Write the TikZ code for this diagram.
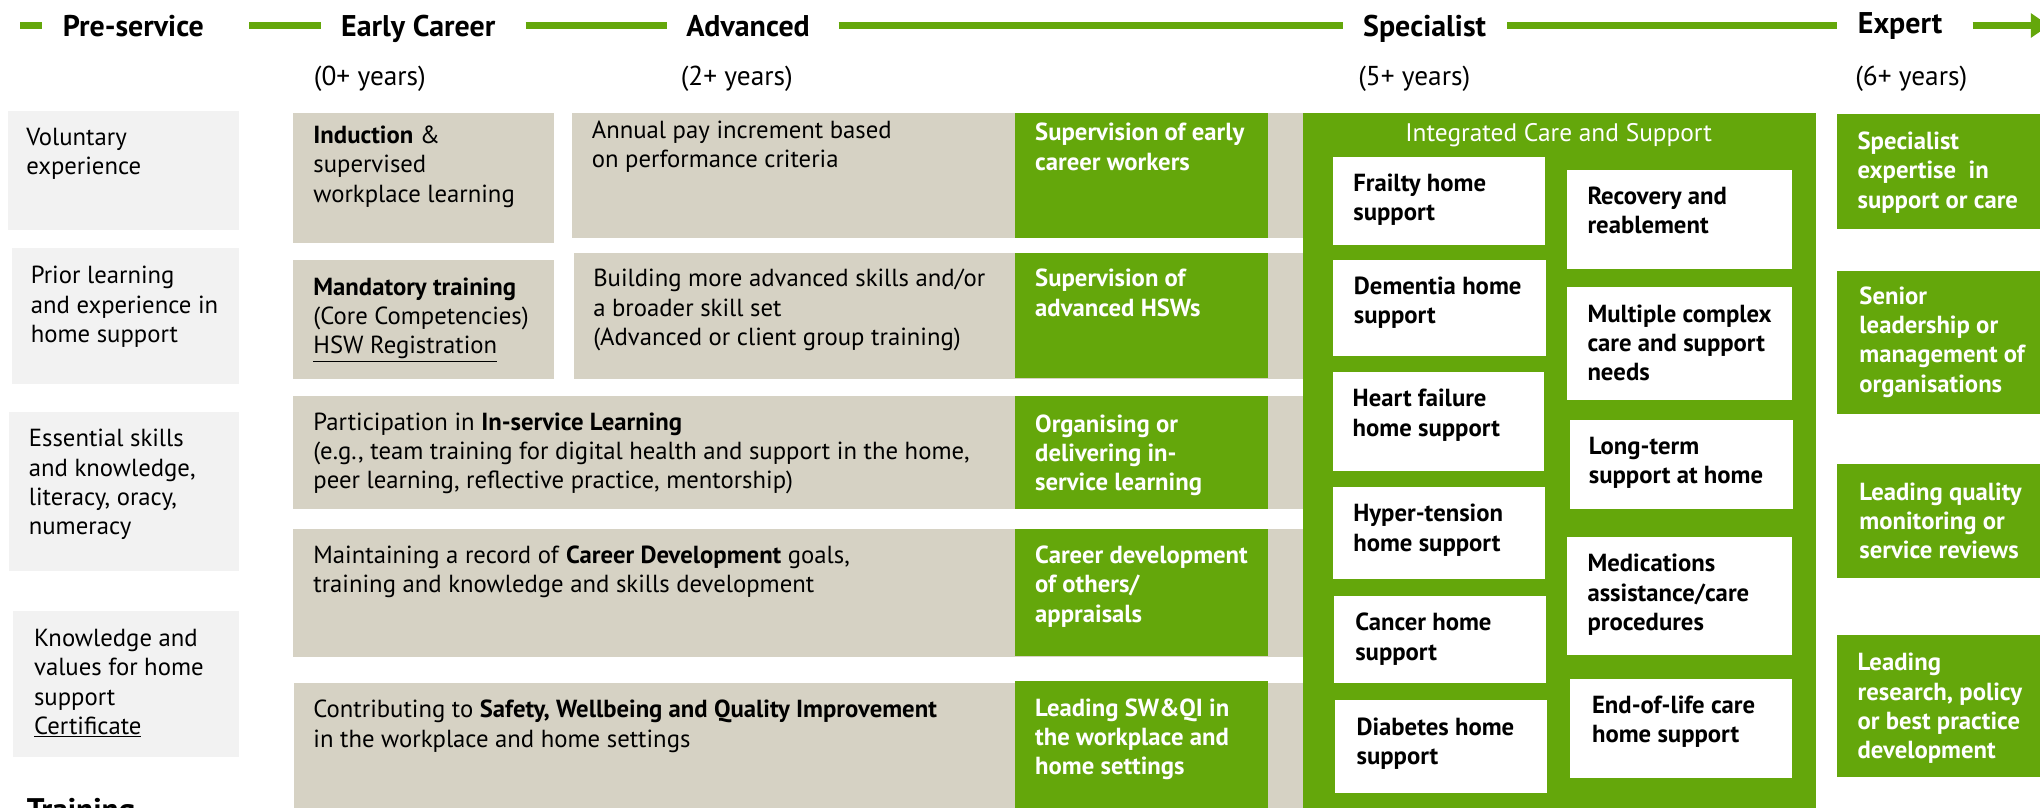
\documentclass[tikz,border=0pt]{standalone}
\usepackage{fontspec}
\setmainfont{PT Sans}
\usetikzlibrary{calc,arrows.meta}
\definecolor{hsgreen}{RGB}{100,167,11}
\definecolor{hsbeige}{RGB}{214,210,196}
\definecolor{hsgrey}{RGB}{242,242,242}

\tikzset{
	txt/.style={anchor=north west, inner sep=0pt, align=left, yshift=13.5pt,
		font=\fontsize{19}{22.5}\selectfont, execute at begin node=\strut},
	gtxt/.style={txt, text=white, font=\bfseries\fontsize{19}{22.5}\selectfont},
	wtxt/.style={txt, font=\bfseries\fontsize{19}{22.5}\selectfont},
	head/.style={anchor=base, inner sep=0pt, font=\bfseries\fontsize{23}{26}\selectfont},
	years/.style={anchor=base, inner sep=0pt, font=\fontsize{21}{24}\selectfont},
	timeline/.style={hsgreen, line width=6pt},
}

\begin{document}
\begin{tikzpicture}[x=1pt, y=-1pt]
		%%%%% FRAME %%%%%
		\useasboundingbox (0, 0) rectangle (1568, 621);
		\coordinate (tl) at (0, 19.6);
		\coordinate (tlend) at (1575, 19.6);
		
		%%%%% TIMELINE %%%%%
		\node[head] (pre) at (102.5, 27.8) {Pre-service};
		\node[head] (early) at (321.5, 27.8) {Early Career};
		\node[head] (adv) at (575, 27.8) {Advanced};
		\node[head] (spec) at (1095, 27.8) {Specialist};
		\node[head] (expert) at (1460.5, 26) {Expert};
		
		\draw[timeline] ($(pre.west |- tl)+(-32.5, 0)$) -- ($(pre.west |- tl)+(-16, 0)$);
		\draw[timeline] ($(pre.east |- tl)+(34.5, 0)$) -- ($(early.west |- tl)+(-15, 0)$);
		\draw[timeline] ($(early.east |- tl)+(23, 0)$) -- ($(adv.west |- tl)+(-15, 0)$);
		\draw[timeline] ($(adv.east |- tl)+(22, 0)$) -- ($(spec.west |- tl)+(-15.5, 0)$);
		\draw[timeline] ($(spec.east |- tl)+(16, 0)$) -- ($(expert.west |- tl)+(-16, 0)$);
		\draw[timeline, -{Triangle[length=14pt 0, width=18pt 0]}] ($(expert.east |- tl)+(23, 0)$) -- (tlend);
		
		\node[years] (y0) at (284.3, 66) {(0+ years)};
		\node[years] (y2) at (566.3, 66) {(2+ years)};
		\node[years] (y5) at (1087, 66) {(5+ years)};
		\node[years] (y6) at (1469, 66) {(6+ years)};
		
		%%%%% PRE-SERVICE %%%%%
		\fill[hsgrey] (6, 85) rectangle (184, 176.5);
		\fill[hsgrey] (9, 191) rectangle (184, 295);
		\fill[hsgrey] (7, 317) rectangle (184, 439);
		\fill[hsgrey] (10, 469.5) rectangle (184, 582);
		
		\node[txt] (volunt) at (20, 112) {Voluntary\\experience};
		\node[txt] (prior) at (23.5, 218) {Prior learning\\and experience in\\home support};
		\node[txt] (essent) at (22, 343.3) {Essential skills\\and knowledge,\\literacy, oracy,\\numeracy};
		\node[txt] (knowl) at (26, 497) {Knowledge and\\values for home\\support\\\underline{Certificate}};
		\node[anchor=base west, inner sep=0pt, font=\bfseries\fontsize{24}{28}\selectfont] (train) at (20.5, 631) {Training};
		
		%%%%% EARLY CAREER AND ADVANCED %%%%%
		\fill[hsbeige] (225.5, 87) rectangle (425.5, 186.5);
		\fill[hsbeige] (225.5, 200) rectangle (425.5, 291.5);
		\fill[hsbeige] (440, 87) rectangle (1001.5, 183.2);
		\fill[hsbeige] (441.3, 194.7) rectangle (1001.5, 291.5);
		\fill[hsbeige] (225.5, 304.4) rectangle (1001.5, 391.3);
		\fill[hsbeige] (225.5, 406.6) rectangle (1001.5, 504.8);
		\fill[hsbeige] (226, 524.7) rectangle (1001.5, 621);
		
		\node[txt] (induct) at (240.7, 110.2) {\textbf{Induction} \&\\supervised\\workplace learning};
		\node[txt] (mandat) at (240.7, 226.8) {\textbf{Mandatory training}\\(Core Competencies)\\\underline{HSW Registration}};
		\node[txt] (annual) at (454.7, 106.3) {Annual pay increment based\\on performance criteria};
		\node[txt] (build) at (455.8, 220.3) {Building more advanced skills and/or\\a broader skill set\\(Advanced or client group training)};
		\node[txt] (insvc) at (240.7, 330.5) {Participation in \textbf{In-service Learning}\\(e.g., team training for digital health and support in the home,\\peer learning, reflective practice, mentorship)};
		\node[txt] (career) at (240.7, 433) {Maintaining a record of \textbf{Career Development} goals,\\training and knowledge and skills development};
		\node[txt] (safety) at (240.7, 551.4) {Contributing to \textbf{Safety, Wellbeing and Quality Improvement}\\in the workplace and home settings};
		
		\fill[hsgreen] (780.4, 87) rectangle (974.8, 183.2);
		\fill[hsgreen] (780.4, 194.7) rectangle (974.8, 290.4);
		\fill[hsgreen] (780.4, 304.4) rectangle (974.8, 391.3);
		\fill[hsgreen] (780.4, 406.6) rectangle (974.8, 504);
		\fill[hsgreen] (780.4, 523.5) rectangle (974.8, 621);
		
		\node[gtxt] (supearly) at (795.5, 108.1) {Supervision of early\\career workers};
		\node[gtxt] (supadv) at (795.5, 220.3) {Supervision of\\advanced HSWs};
		\node[gtxt] (organ) at (795.5, 331.8) {Organising or\\delivering in-\\service learning};
		\node[gtxt] (cardev) at (795.5, 433) {Career development\\of others/\\appraisals};
		\node[gtxt] (leadsw) at (795.5, 550.4) {Leading SW\&QI in\\the workplace and\\home settings};
		
		%%%%% SPECIALIST %%%%%
		\fill[hsgreen] (1001.5, 87) rectangle (1396, 621);
		\node[anchor=base, inner sep=0pt, text=white, font=\fontsize{19.5}{22}\selectfont] (integ) at (1198, 108.5) {Integrated Care and Support};
		
		\fill[white] (1024.6, 120.4) rectangle (1187.5, 188.3);
		\fill[white] (1024.9, 199.8) rectangle (1188, 273.6);
		\fill[white] (1024.2, 285.7) rectangle (1187, 361.8);
		\fill[white] (1024.6, 374) rectangle (1187.5, 444.8);
		\fill[white] (1025, 458) rectangle (1188, 524.7);
		\fill[white] (1026, 538) rectangle (1189, 609.8);
		\fill[white] (1204.6, 130.7) rectangle (1377.5, 206.8);
		\fill[white] (1204.6, 220.3) rectangle (1377.5, 307.5);
		\fill[white] (1206.6, 322.8) rectangle (1378.3, 391.3);
		\fill[white] (1204.6, 413) rectangle (1377.5, 503.2);
		\fill[white] (1207, 522) rectangle (1377.5, 597.7);
		
		\node[wtxt] (frail) at (1040, 146.6) {Frailty home\\support};
		\node[wtxt] (dement) at (1040.5, 226) {Dementia home\\support};
		\node[wtxt] (heart) at (1039.5, 312.6) {Heart failure\\home support};
		\node[wtxt] (hyper) at (1040, 401) {Hyper-tension\\home support};
		\node[wtxt] (cancer) at (1041.5, 484.7) {Cancer home\\support};
		\node[wtxt] (diab) at (1042.5, 565) {Diabetes home\\support};
		\node[wtxt] (recov) at (1220, 156.8) {Recovery and\\reablement};
		\node[wtxt] (multi) at (1220, 247.3) {Multiple complex\\care and support\\needs};
		\node[wtxt] (longt) at (1221, 349) {Long-term\\support at home};
		\node[wtxt] (medic) at (1220, 439.4) {Medications\\assistance/care\\procedures};
		\node[wtxt] (endlife) at (1223.5, 548.3) {End-of-life care\\home support};
		
		%%%%% EXPERT %%%%%
		\fill[hsgreen] (1411.8, 87.6) rectangle (1568, 176);
		\fill[hsgreen] (1411.8, 208) rectangle (1568, 318);
		\fill[hsgreen] (1411.8, 357) rectangle (1568, 444);
		\fill[hsgreen] (1411.8, 488) rectangle (1568, 597);
		
		\node[gtxt] (spexp) at (1427.6, 114.8) {Specialist\\expertise\ \ in\\support or care};
		\node[gtxt] (senior) at (1429, 233.7) {Senior\\leadership or\\management of\\organisations};
		\node[gtxt] (quality) at (1429, 384.3) {Leading quality\\monitoring or\\service reviews};
		\node[gtxt] (research) at (1427.6, 515.5) {Leading\\research, policy\\or best practice\\development};
		
	\end{tikzpicture}
\end{document}
